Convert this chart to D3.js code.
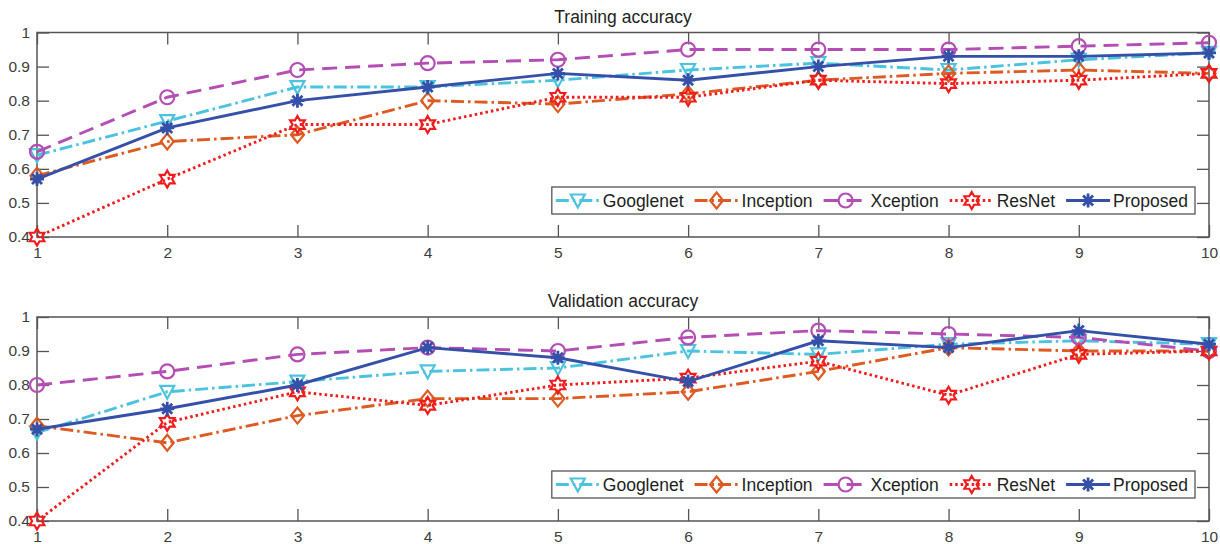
<!DOCTYPE html>
<html>
<head>
<meta charset="utf-8">
<script src="https://cdn.jsdelivr.net/npm/d3@7"></script>
<style>
body { margin: 0; background: #fff; }
text { font-family: "Liberation Sans", Arial, sans-serif; }
</style>
</head>
<body>
<div id="chart"></div>
<script>
// ---- data ----
var epochs = [1, 2, 3, 4, 5, 6, 7, 8, 9, 10];
var yTicks = [0.4, 0.5, 0.6, 0.7, 0.8, 0.9, 1];
var seriesNames = ['Googlenet', 'Inception', 'Xception', 'ResNet', 'Proposed'];

var trainGooglenet = [0.64, 0.74, 0.84, 0.84, 0.86, 0.89, 0.91, 0.89, 0.92, 0.94];
var trainInception = [0.58, 0.68, 0.70, 0.80, 0.79, 0.82, 0.86, 0.88, 0.89, 0.88];
var trainXception  = [0.65, 0.81, 0.89, 0.91, 0.92, 0.95, 0.95, 0.95, 0.96, 0.97];
var trainResNet    = [0.40, 0.57, 0.73, 0.73, 0.81, 0.81, 0.86, 0.85, 0.86, 0.88];
var trainProposed  = [0.57, 0.72, 0.80, 0.84, 0.88, 0.86, 0.90, 0.93, 0.93, 0.94];

var valGooglenet = [0.66, 0.78, 0.81, 0.84, 0.85, 0.90, 0.89, 0.92, 0.93, 0.92];
var valInception = [0.68, 0.63, 0.71, 0.76, 0.76, 0.78, 0.84, 0.91, 0.90, 0.90];
var valXception  = [0.80, 0.84, 0.89, 0.91, 0.90, 0.94, 0.96, 0.95, 0.94, 0.90];
var valResNet    = [0.40, 0.69, 0.78, 0.74, 0.80, 0.82, 0.87, 0.77, 0.89, 0.90];
var valProposed  = [0.67, 0.73, 0.80, 0.91, 0.88, 0.81, 0.93, 0.91, 0.96, 0.92];

// ---- styles ----
var styles = {
    Googlenet: { color: '#4cc3de', dash: '13,4,2.5,4', marker: 'triangleDown' },
    Inception: { color: '#dd5a22', dash: '13,4,2.5,4', marker: 'diamond' },
    Xception:  { color: '#b44db4', dash: '15,8', marker: 'circle' },
    ResNet:    { color: '#f01c1c', dash: '2.5,3', marker: 'hexagram' },
    Proposed:  { color: '#3450a8', dash: null, marker: 'asterisk' }
};

var width = 1220, height = 544;
var svg = d3.select('#chart').append('svg')
    .attr('width', width)
    .attr('height', height);

function markerPath(type) {
    var p = d3.path();
    if (type === 'triangleDown') {
        p.moveTo(-7, -6); p.lineTo(7, -6); p.lineTo(0, 7); p.closePath();
    } else if (type === 'diamond') {
        p.moveTo(0, -8); p.lineTo(6.5, 0); p.lineTo(0, 8); p.lineTo(-6.5, 0); p.closePath();
    } else if (type === 'circle') {
        p.moveTo(7, 0); p.arc(0, 0, 7, 0, 2 * Math.PI);
    } else if (type === 'hexagram') {
        var ro = 8.5, ri = 8.5 / Math.sqrt(3);
        for (var k = 0; k < 12; k++) {
            var a = -Math.PI / 2 + k * Math.PI / 6;
            var rr = (k % 2 === 0) ? ro : ri;
            if (k === 0) p.moveTo(rr * Math.cos(a), rr * Math.sin(a));
            else p.lineTo(rr * Math.cos(a), rr * Math.sin(a));
        }
        p.closePath();
    } else if (type === 'asterisk') {
        var s = 7, d = 5;
        p.moveTo(-s, 0); p.lineTo(s, 0);
        p.moveTo(0, -s); p.lineTo(0, s);
        p.moveTo(-d, -d); p.lineTo(d, d);
        p.moveTo(-d, d); p.lineTo(d, -d);
    }
    return p.toString();
}

function drawMarker(g, name, cx, cy) {
    var st = styles[name];
    g.append('path')
        .attr('d', markerPath(st.marker))
        .attr('transform', 'translate(' + cx + ',' + cy + ')')
        .attr('fill', 'none')
        .attr('stroke', st.color)
        .attr('stroke-width', name === 'Proposed' ? 2.8 : 2.2);
}

function drawPanel(title, data, top, bottom) {
    var left = 37, right = 1209;
    var x = d3.scaleLinear().domain([1, 10]).range([left, right]);
    var y = d3.scaleLinear().domain([0.4, 1]).range([bottom, top]);

    var g = svg.append('g');

    // inward ticks on all four sides (MATLAB box style)
    var xb = g.append('g').attr('transform', 'translate(0,' + bottom + ')')
        .call(d3.axisBottom(x).tickValues(epochs).tickSize(-12).tickPadding(10).tickFormat(d3.format('d')));
    var xt = g.append('g').attr('transform', 'translate(0,' + top + ')')
        .call(d3.axisTop(x).tickValues(epochs).tickSize(-12).tickFormat(''));
    var yl = g.append('g').attr('transform', 'translate(' + left + ',0)')
        .call(d3.axisLeft(y).tickValues(yTicks).tickSize(-12).tickPadding(7)
            .tickFormat(function (d) { return d === 1 ? '1' : d.toFixed(1); }));
    var yr = g.append('g').attr('transform', 'translate(' + right + ',0)')
        .call(d3.axisRight(y).tickValues(yTicks).tickSize(-12).tickFormat(''));

    [xb, xt, yl, yr].forEach(function (ax) {
        ax.select('.domain').remove();
        ax.selectAll('line').attr('stroke', '#555').attr('stroke-width', 1.3);
        ax.selectAll('text').attr('fill', '#3c3c3c').style('font-size', '15.5px')
            .style('font-family', '"Liberation Sans", Arial, sans-serif');
    });

    g.append('rect')
        .attr('x', left).attr('y', top)
        .attr('width', right - left).attr('height', bottom - top)
        .attr('fill', 'none').attr('stroke', '#555').attr('stroke-width', 1.5);

    g.append('text')
        .attr('x', (left + right) / 2).attr('y', top - 10)
        .attr('text-anchor', 'middle')
        .style('font-size', '17.5px').attr('fill', '#1e1e1e')
        .text(title);

    var line = d3.line()
        .x(function (d, i) { return x(epochs[i]); })
        .y(function (d) { return y(d); });

    seriesNames.forEach(function (name) {
        var st = styles[name];
        g.append('path')
            .datum(data[name])
            .attr('d', line)
            .attr('fill', 'none')
            .attr('stroke', st.color)
            .attr('stroke-width', 2.9)
            .attr('stroke-dasharray', st.dash);
        data[name].forEach(function (v, i) {
            drawMarker(g, name, x(epochs[i]), y(v));
        });
    });

    // legend
    var lg = g.append('g');
    var box = lg.append('rect').attr('fill', '#fff').attr('stroke', '#555').attr('stroke-width', 1.3);
    var cx = 4;
    var items = lg.append('g');
    seriesNames.forEach(function (name) {
        var st = styles[name];
        items.append('line')
            .attr('x1', cx).attr('x2', cx + 44).attr('y1', 0).attr('y2', 0)
            .attr('stroke', st.color).attr('stroke-width', 2.9)
            .attr('stroke-dasharray', st.dash);
        drawMarker(items, name, cx + 22, 0);
        var t = items.append('text')
            .attr('x', cx + 47).attr('y', 0).attr('dy', '0.35em')
            .style('font-size', '17.5px').attr('fill', '#1e1e1e')
            .text(name);
        cx += 47 + t.node().getComputedTextLength() + 11;
    });
    var boxW = cx - 4, boxH = 27;
    var bx = right - 14 - boxW, by = bottom - 50;
    box.attr('x', bx).attr('y', by).attr('width', boxW).attr('height', boxH);
    items.attr('transform', 'translate(' + bx + ',' + (by + boxH / 2) + ')');
}

drawPanel('Training accuracy', {
    Googlenet: trainGooglenet, Inception: trainInception, Xception: trainXception,
    ResNet: trainResNet, Proposed: trainProposed
}, 32.5, 237);

drawPanel('Validation accuracy', {
    Googlenet: valGooglenet, Inception: valInception, Xception: valXception,
    ResNet: valResNet, Proposed: valProposed
}, 317, 521);
</script>
</body>
</html>
